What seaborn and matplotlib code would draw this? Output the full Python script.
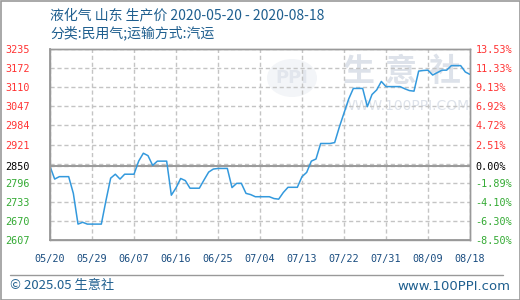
import numpy as np
import pandas as pd
import matplotlib
matplotlib.use("Agg")
import matplotlib.pyplot as plt
import seaborn as sns
from matplotlib.patches import Rectangle, Ellipse

# ---------------- data ----------------
title = "液化气 山东 生产价 2020-05-20 - 2020-08-18"
subtitle = "分类:民用气;运输方式:汽运"
start_date = "2020-05-20"
prices = [2850, 2808, 2816, 2816, 2816, 2761, 2660, 2666, 2660, 2660,
          2660, 2660, 2738, 2811, 2824, 2808, 2824, 2824, 2824, 2867,
          2893, 2885, 2853, 2867, 2867, 2867, 2755, 2779, 2810, 2803,
          2778, 2778, 2778, 2805, 2831, 2841, 2843, 2843, 2843, 2780,
          2794, 2794, 2761, 2757, 2750, 2750, 2750, 2750, 2744, 2742,
          2764, 2781, 2781, 2781, 2816, 2830, 2867, 2874, 2925, 2925,
          2925, 2928, 2979, 3025, 3071, 3106, 3106, 3106, 3046, 3086,
          3101, 3129, 3112, 3112, 3112, 3112, 3105, 3099, 3097, 3163,
          3165, 3166, 3150, 3158, 3166, 3166, 3181, 3181, 3181, 3160, 3152]
base_price = 2850
pct_top = 13.53
pct_bottom = -8.50
x_tick_labels = ["05/20", "05/29", "06/07", "06/16", "06/25", "07/04",
                 "07/13", "07/22", "07/31", "08/09", "08/18"]
left_labels = ["3235", "3172", "3110", "3047", "2984", "2921", "2850",
               "2796", "2733", "2670", "2607"]
right_labels = ["13.53%", "11.33%", "9.13%", "6.92%", "4.72%", "2.51%", "0.00%",
                "-1.89%", "-4.10%", "-6.30%", "-8.50%"]
footer_left = "© 2025.05 生意社"
footer_right = "www.100PPI.com"

# ---------------- styling ----------------
W, H = 520, 300
RED = "#ff3333"
GREEN = "#33aa33"
BLUE_TXT = "#1f5f8f"
LINE = "#3399dd"
GRID = "#c4c4c4"
CJK = ["Noto Sans CJK SC", "DejaVu Sans"]
MONO = "DejaVu Sans Mono"

sns.set_theme(style="white")
plt.rcParams["font.family"] = CJK

fig = plt.figure(figsize=(W / 100, H / 100), dpi=100)
fig.patch.set_facecolor("white")

def fx(px):
    return px / W

def fy(py):
    return 1 - py / H

# watermark (drawn underneath the axes, which are transparent)
wm = "#dde2ea"
fig.patches.append(Ellipse((fx(292), fy(78)), fx(50), 38 / H, transform=fig.transFigure,
                           facecolor="#f3f5f8", edgecolor="none", zorder=-5))
fig.text(fx(292), fy(78), "PPI", fontsize=13, fontweight="bold", color="#e2e6ed",
         ha="center", va="center", family="DejaVu Sans", zorder=-4)
for ch, cx in zip("生意社", [358, 401, 445]):
    fig.text(fx(cx), fy(72), ch, fontsize=23, fontweight="bold", color=wm,
             ha="center", va="center", family=CJK, zorder=-4)
fig.text(fx(406), fy(106), "WWW.100PPI.COM", fontsize=10, color=wm,
         ha="center", va="center", family="DejaVu Sans", zorder=-4)

ax = fig.add_axes([fx(50), fy(240), fx(470) - fx(50), fy(49) - fy(240)])
ax.patch.set_alpha(0)

dates = pd.date_range(start_date, periods=len(prices), freq="D")
df = pd.DataFrame({"date": dates, "price": prices})

ylo = base_price * (1 + pct_bottom / 100)
yhi = base_price * (1 + pct_top / 100)
grid_levels = np.linspace(ylo, yhi, 11)
tick_dates = pd.date_range(start_date, periods=len(x_tick_labels), freq="9D")

sns.lineplot(data=df, x="date", y="price", ax=ax, color=LINE, lw=1.1, zorder=4)

ax.set_xlim(dates[0], dates[-1])
ax.set_ylim(ylo, yhi)
ax.set_xlabel("")
ax.set_ylabel("")

# y ticks: gridlines (top to bottom) with the one above base replaced by the base price
ytick_pos = list(grid_levels[::-1][:6]) + [base_price] + list(grid_levels[::-1][7:])
ax.set_yticks(ytick_pos)
ax.set_yticklabels(left_labels, family=MONO, fontsize=7.3)
# the remaining equal-division level as a minor tick
ax.set_yticks([grid_levels[4]], minor=True)
ax.yaxis.grid(True, which="both", color=GRID, lw=1.0, ls=(0, (3, 2)))
ax.axhline(base_price, color="#999999", lw=1.4, zorder=2)
ax.tick_params(axis="y", which="both", length=0, pad=32)
for lab in ax.get_yticklabels():
    lab.set_ha("left")
for i, lab in enumerate(ax.get_yticklabels()):
    lab.set_color(RED if i < 6 else ("black" if i == 6 else GREEN))

ax.set_xticks(tick_dates)
ax.set_xticklabels(x_tick_labels, family=MONO, fontsize=7.3, color="#1a4d80")
ax.tick_params(axis="x", length=0, pad=10)
ax.xaxis.grid(True, which="major", color=GRID, lw=1.0, ls=(0, (3, 2)))

ax2 = ax.twinx()
ax2.patch.set_alpha(0)
ax2.set_ylim(ylo, yhi)
ax2.set_yticks(ytick_pos)
ax2.set_yticklabels(right_labels, family=MONO, fontsize=7.3)
ax2.tick_params(axis="y", length=0, pad=4)
ax2.grid(False)
for i, lab in enumerate(ax2.get_yticklabels()):
    lab.set_color(RED if i < 6 else ("black" if i == 6 else GREEN))

for a in (ax, ax2):
    for s in a.spines.values():
        s.set_color("#999999")
        s.set_linewidth(1.0)
ax.spines["left"].set_linewidth(1.3)
ax.spines["bottom"].set_linewidth(1.3)

# titles
fig.text(fx(50), fy(15), title, fontsize=10, color=BLUE_TXT, ha="left", va="center", family=CJK)
fig.text(fx(50), fy(33), subtitle, fontsize=10, color=BLUE_TXT, ha="left", va="center", family=CJK)

# footer
fig.add_artist(plt.Line2D([fx(10), fx(503)], [fy(275), fy(275)], color="#999999", lw=1.0,
                          transform=fig.transFigure))
fig.text(fx(10), fy(286), footer_left, fontsize=9.5, color=BLUE_TXT, ha="left", va="center", family=CJK)
fig.text(fx(510), fy(286), footer_right, fontsize=9.5, color=BLUE_TXT, ha="right", va="center",
         family="DejaVu Sans")

# outer border
fig.patches.append(Rectangle((0.5 / W, 0.5 / H), 1 - 1 / W, 1 - 1 / H, transform=fig.transFigure,
                             fill=False, edgecolor="#999999", lw=1.2, zorder=10))

fig.savefig("out.png", dpi=100, facecolor="white")
